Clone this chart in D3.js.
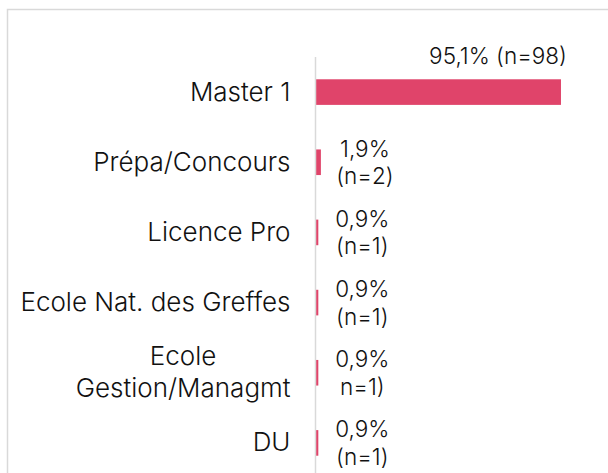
<!DOCTYPE html>
<html><head><meta charset="utf-8">
<script src="https://cdn.jsdelivr.net/npm/d3@7"></script>
<style>body{margin:0;background:#fff}</style></head>
<body><svg id="chart" width="608" height="473"></svg>
<script>
// ---- data ----
const categories = ["Master 1", "Prépa/Concours", "Licence Pro", "Ecole Nat. des Greffes", "Ecole\nGestion/Managmt", "DU"];
const percents = [95.1, 1.9, 0.9, 0.9, 0.9, 0.9];
const pctLabels = ["95,1%", "1,9%", "0,9%", "0,9%", "0,9%", "0,9%"];
const countLabels = ["(n=98)", "(n=2)", "(n=1)", "(n=1)", "n=1)", "(n=1)"];

const W = 608, H = 473;
const svg = d3.select("#chart");
svg.append("rect").attr("width", W).attr("height", H).attr("fill", "#fff");

// frame
svg.append("rect").attr("x", 7.5).attr("y", 9.5).attr("width", 800).attr("height", 800)
  .attr("fill", "none").attr("stroke", "#d9d9d9").attr("stroke-width", 1.5);

const axisX = 315.5;
const x = d3.scaleLinear().domain([0, 100]).range([316, 573.6]);
const y = d3.scaleBand().domain(categories).range([57, 478]).paddingInner(0.635).paddingOuter(0.3175);

const FONT = "Inter, 'Open Sans', sans-serif";
const textColor = "#111";

// bars
svg.append("g").selectAll("rect").data(categories).join("rect")
  .attr("x", x(0))
  .attr("y", d => y(d))
  .attr("width", (d, i) => x(percents[i]) - x(0))
  .attr("height", y.bandwidth())
  .attr("fill", "#E0446A");

// axis line
svg.append("line").attr("x1", axisX).attr("x2", axisX).attr("y1", 57).attr("y2", H)
  .attr("stroke", "#d9d9d9").attr("stroke-width", 1.5);

// category labels (right aligned block, lines centered)
const catG = svg.append("g").style("font-family", FONT).style("font-size", "26px").style("font-weight", 300).attr("fill", textColor);
categories.forEach(c => {
  const lines = c.split("\n");
  const cy = y(c) + y.bandwidth() / 2;
  const right = axisX - 25;
  const texts = lines.map((ln, k) =>
    catG.append("text").attr("y", cy + 8.5 - (lines.length - 1) * 15.5 - (lines.length - 1) * 0.5 + k * 32).text(ln));
  const w = d3.max(texts, t => t.node().getComputedTextLength());
  texts.forEach(t => t.attr("text-anchor", "middle").attr("x", right - w / 2));
});

// value labels
const valG = svg.append("g").style("font-family", FONT).style("font-size", "22.5px").style("font-weight", 300).attr("fill", textColor);
categories.forEach((c, i) => {
  const cy = y(c) + y.bandwidth() / 2;
  if (i === 0) {
    valG.append("text").attr("x", x(percents[i]) + 6).attr("y", y(c) - 15)
      .attr("text-anchor", "end").text(pctLabels[i] + " " + countLabels[i]);
  } else {
    valG.append("text").attr("text-anchor", "middle")
      .attr("x", x(percents[i]) + 44).attr("y", cy - 5.5).text(pctLabels[i]);
    valG.append("text").attr("text-anchor", "middle")
      .attr("x", x(percents[i]) + 44).attr("y", cy + 22).text(countLabels[i]);
  }
});
</script></body></html>
